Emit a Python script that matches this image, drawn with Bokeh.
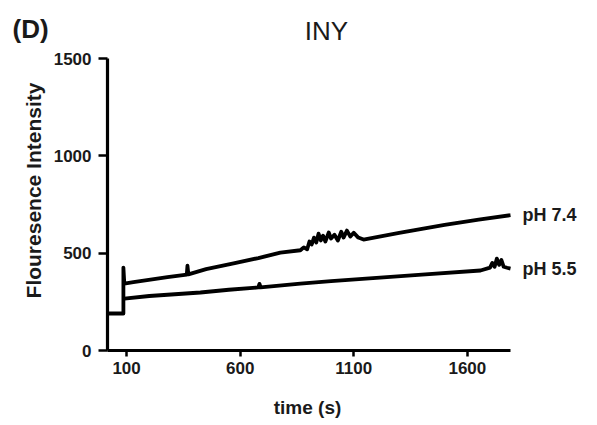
import math
from bokeh.plotting import figure
from bokeh.models import Range1d, Label, FixedTicker
from bokeh.embed import file_html
from bokeh.resources import INLINE

# pH 7.4 trace (includes baseline before addition)
t74 = [20, 86, 86, 90, 130, 280, 365, 368, 372, 450, 571, 680, 777, 865, 880, 895,
       905, 915, 925, 935, 945, 955, 965, 975, 990, 1000, 1015, 1030, 1045, 1055, 1070,
       1085, 1100, 1120, 1143, 1300, 1500, 1650, 1790]
y74 = [190, 190, 426, 344, 351, 377, 390, 436, 391, 418, 448, 475, 503, 515, 530, 520,
       560, 545, 580, 555, 600, 565, 590, 560, 606, 575, 595, 565, 610, 580, 616,
       585, 605, 580, 570, 604, 645, 672, 695]

# pH 5.5 trace
t55 = [90, 200, 425, 550, 680, 685, 690, 865, 1000, 1200, 1400, 1658, 1700, 1710, 1720,
       1730, 1740, 1750, 1760, 1775, 1790]
y55 = [267, 280, 298, 312, 324, 342, 324, 344, 356, 373, 390, 411, 426, 450, 430,
       472, 440, 465, 430, 425, 421]

series_labels = ["pH 7.4", "pH 5.5"]
x_ticks = [100, 600, 1100, 1600]
y_ticks = [0, 500, 1000, 1500]

FONT = "Liberation Sans"
TXT = "#1a1a1a"

W, H = 597, 425
# pixel placement of the axes (frame fills the whole canvas)
AX_LEFT_PX, AX_BOTTOM_PX, AX_TOP_PX, AX_RIGHT_PX = 107, 350, 58, 510
X_MIN, X_MAX, Y_MIN, Y_MAX = 16, 1790, 0, 1500
sx = (AX_RIGHT_PX - AX_LEFT_PX) / (X_MAX - X_MIN)
sy = (AX_BOTTOM_PX - AX_TOP_PX) / (Y_MAX - Y_MIN)
x_lo = X_MIN - AX_LEFT_PX / sx
x_hi = x_lo + W / sx
y_lo = Y_MIN - (H - AX_BOTTOM_PX) / sy
y_hi = Y_MIN + AX_BOTTOM_PX / sy

def px_x(px):
    return x_lo + px / sx

def px_y(py):
    return y_lo + (H - py) / sy

p = figure(width=W, height=H, output_backend="svg", toolbar_location=None,
           x_range=Range1d(x_lo, x_hi), y_range=Range1d(y_lo, y_hi), min_border=0)
p.outline_line_color = None
p.grid.visible = False
p.background_fill_color = "white"

p.line(t74, y74, line_color="black", line_width=3.8, line_join="round")
p.line(t55, y55, line_color="black", line_width=3.8, line_join="round")

for ax in (p.xaxis[0], p.yaxis[0]):
    ax.axis_line_width = 3.2
    ax.axis_line_color = "black"
    ax.major_tick_line_width = 2.5
    ax.major_tick_line_color = "black"
    ax.major_tick_in = 0
    ax.minor_tick_line_color = None
    ax.major_label_text_font = FONT
    ax.major_label_text_font_size = "17px"
    ax.major_label_text_font_style = "bold"
    ax.major_label_text_color = TXT

p.xaxis.ticker = FixedTicker(ticks=x_ticks)
p.yaxis.ticker = FixedTicker(ticks=y_ticks)
p.xaxis.bounds = (X_MIN, X_MAX)
p.yaxis.bounds = (Y_MIN, Y_MAX)
p.xaxis.fixed_location = Y_MIN
p.yaxis.fixed_location = X_MIN
p.xaxis.major_tick_out = 6
p.yaxis.major_tick_out = 9
p.xaxis.major_label_standoff = 5
p.yaxis.major_label_standoff = 7

def add_text(px, py, text, size, bold=True, align="center", angle=0.0):
    p.add_layout(Label(x=px_x(px), y=px_y(py), text=text, angle=angle,
                       text_align=align, text_baseline="middle",
                       text_font=FONT, text_font_size=size,
                       text_font_style="bold" if bold else "normal",
                       text_color=TXT))

# axis titles
add_text(307, 407, "time (s)", "19px")
add_text(33, 190, "Flouresence Intensity", "21px", angle=math.pi / 2)

# series labels at the end of the traces
p.add_layout(Label(x=X_MAX, y=y74[-1], text=series_labels[0], x_offset=12,
                   text_baseline="middle", text_font=FONT, text_font_size="18px",
                   text_font_style="bold", text_color=TXT))
p.add_layout(Label(x=X_MAX, y=y55[-1], text=series_labels[1], x_offset=12,
                   text_baseline="middle", text_font=FONT, text_font_size="18px",
                   text_font_style="bold", text_color=TXT))

# chart title and panel letter
add_text(326, 30, "INY", "26px", bold=False)
add_text(12, 28, "(D)", "26px", align="left")

open("out.html", "w").write(file_html(p, INLINE))
